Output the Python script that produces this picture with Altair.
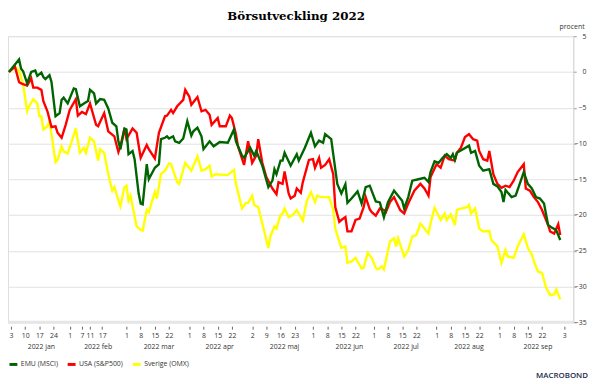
import altair as alt
import pandas as pd
import numpy as np

SERIES = ["EMU (MSCI)", "USA (S&P500)", "Sverige (OMX)"]
COLORS = ["#006400", "#ff0000", "#ffff00"]

# day of year 2022 (1 = 1 jan) and % change
emu_day = [
    2, 7, 8, 9, 11, 13, 15, 16, 18, 19,
    20, 22, 23, 25, 27, 28, 29, 31, 32, 34,
    35, 37, 39, 41, 42, 44, 45, 47, 49, 51,
    53, 55, 56, 57, 59, 60, 61, 63, 64, 66,
    67, 68, 70, 71, 74, 76, 77, 79, 80, 81,
    83, 84, 86, 88, 90, 92, 93, 95, 97, 98,
    101, 103, 106, 110, 113, 114, 117, 118, 121, 123,
    124, 127, 130, 132, 133, 134, 136, 137, 138, 141,
    144, 145, 148, 151, 153, 155, 157, 158, 161, 162,
    164, 166, 168, 169, 171, 174, 176, 178, 180, 183,
    185, 187, 189, 192, 194, 196, 197, 199, 201, 204,
    207, 209, 210, 212, 214, 216, 218, 220, 221, 222,
    223, 226, 229, 230, 232, 234, 236, 239, 241, 243,
    245, 246, 247, 250, 252, 254, 256, 258, 260, 262,
    264, 266, 268, 270, 272, 274,
]
emu_val = [
    0, 1.75, 0.46, 0.1, -1.6, 0, 0.2, -0.55, -0.1, -0.7,
    -1.0, -0.46, -1.4, -6.2, -5.75, -3.9, -3.6, -4.4, -3.7, -2.3,
    -2.4, -4.8, -4.4, -4.05, -2.5, -3.0, -4.4, -3.8, -3.9, -5.1,
    -7.1, -7.6, -9.7, -10.8, -7.9, -8.05, -11.5, -11.05, -12.2, -17.0,
    -18.4, -18.5, -12.9, -15.0, -13.4, -12.9, -9.4, -9.2, -9.0, -9.3,
    -9.0, -9.7, -9.9, -9.3, -6.9, -8.9, -8.3, -7.8, -9.0, -10.8,
    -9.7, -10.4, -9.8, -9.9, -8.05, -9.7, -11.7, -12.0, -10.6, -11.7,
    -11.05, -13.1, -16.1, -15.2, -13.6, -14.3, -12.4, -12.4, -11.3, -13.1,
    -11.5, -12.4, -10.6, -8.5, -10.4, -9.6, -9.9, -8.7, -9.4, -11.5,
    -15.65, -17.0, -15.7, -18.3, -17.7, -16.7, -18.4, -16.1, -15.9, -18.1,
    -18.25, -20.3, -18.2, -16.6, -17.3, -18.0, -19.1, -17.5, -15.2, -15.0,
    -14.8, -15.4, -14.0, -12.5, -12.7, -12.0, -11.5, -12.0, -11.5, -12.3,
    -11.3, -10.8, -10.3, -11.3, -11.05, -13.1, -13.8, -13.6, -15.65, -16.0,
    -16.8, -18.2, -16.5, -17.5, -17.3, -15.65, -14.0, -15.65, -16.3, -17.5,
    -17.7, -18.4, -21.4, -21.8, -22.1, -23.5,
]

usa_day = [
    2, 5, 7, 8, 11, 13, 14, 16, 18, 19,
    21, 23, 25, 26, 28, 30, 32, 35, 36, 38,
    40, 42, 45, 46, 49, 51, 54, 56, 57, 59,
    60, 63, 65, 67, 70, 71, 74, 76, 79, 80,
    82, 83, 85, 88, 89, 91, 92, 95, 97, 99,
    101, 102, 105, 106, 109, 111, 112, 114, 115, 118,
    120, 122, 124, 125, 127, 129, 132, 134, 135, 137,
    138, 140, 141, 143, 144, 146, 147, 150, 152, 153,
    155, 156, 158, 160, 162, 163, 165, 166, 168, 169,
    171, 173, 175, 177, 178, 180, 181, 183, 185, 187,
    188, 190, 192, 195, 197, 199, 202, 205, 207, 209,
    210, 213, 215, 217, 219, 222, 223, 225, 227, 229,
    231, 233, 234, 236, 238, 239, 241, 243, 245, 247,
    249, 251, 253, 256, 257, 259, 261, 263, 265, 268,
    269, 271, 273, 274,
]
usa_val = [
    0, 0.7, -1.4, -1.6, -1.9, -0.9, -2.2, -2.2, -2.5, -4.1,
    -5.5, -7.7, -7.6, -8.5, -9.2, -7.4, -5.3, -3.8, -6.1, -5.6,
    -5.9, -4.4, -7.4, -7.6, -5.75, -8.3, -9.0, -11.2, -10.4, -7.9,
    -9.4, -7.9, -8.5, -12.0, -10.2, -10.8, -12.1, -8.5, -6.2, -6.1,
    -5.3, -5.75, -4.8, -3.9, -2.5, -3.45, -4.6, -3.5, -5.5, -5.3,
    -6.0, -7.4, -6.45, -7.6, -7.6, -6.1, -6.45, -8.7, -10.4, -13.0,
    -9.7, -12.7, -11.7, -9.4, -12.7, -14.7, -16.3, -17.1, -15.4, -15.65,
    -13.9, -17.0, -17.7, -17.3, -16.3, -16.9, -15.4, -12.3, -12.2, -13.4,
    -12.0, -13.4, -13.0, -12.2, -14.3, -18.9, -20.95, -20.7, -20.3, -22.3,
    -22.3, -20.7, -20.5, -18.9, -17.5, -19.2, -19.6, -20.1, -19.1, -19.3,
    -19.6, -18.2, -17.5, -19.3, -19.8, -18.4, -16.6, -15.65, -16.3, -17.3,
    -14.7, -12.9, -13.4, -11.7, -12.2, -12.4, -11.3, -10.6, -9.1, -8.7,
    -9.4, -9.6, -11.05, -12.2, -12.4, -11.05, -14.3, -15.65, -16.2, -15.9,
    -16.1, -15.2, -14.0, -12.9, -16.3, -16.6, -17.5, -18.2, -19.3, -21.4,
    -22.3, -22.6, -21.3, -22.8,
]

swe_day = [
    2, 5, 7, 9, 11, 12, 14, 16, 17, 18,
    19, 21, 22, 23, 25, 26, 28, 29, 31, 33,
    35, 37, 39, 40, 42, 44, 46, 47, 49, 51,
    53, 54, 57, 59, 60, 61, 62, 65, 67, 68,
    70, 71, 74, 75, 77, 79, 81, 82, 85, 86,
    89, 92, 95, 97, 99, 101, 102, 104, 108, 110,
    113, 114, 117, 119, 120, 122, 123, 125, 127, 130,
    131, 133, 134, 136, 137, 138, 140, 142, 144, 146,
    147, 149, 151, 153, 154, 156, 157, 160, 162, 163,
    166, 168, 169, 171, 173, 174, 176, 177, 179, 181,
    183, 184, 186, 187, 190, 192, 193, 194, 197, 199,
    201, 203, 205, 207, 209, 210, 212, 215, 217, 218,
    220, 222, 223, 225, 228, 229, 230, 232, 234, 236,
    239, 240, 243, 245, 247, 248, 251, 253, 256, 258,
    260, 261, 263, 265, 267, 269, 271, 272, 274,
]
swe_val = [
    0, 0.7, 0.2, -1.8, -5.5, -4.8, -3.8, -4.4, -6.2, -6.2,
    -8.05, -7.6, -6.9, -8.7, -12.6, -12.3, -10.4, -11.1, -11.4, -9.7,
    -7.9, -11.3, -10.6, -11.3, -9.2, -9.7, -12.4, -10.8, -11.3, -14.3,
    -16.6, -16.1, -18.8, -16.1, -15.9, -18.0, -17.3, -21.6, -22.1, -22.2,
    -19.3, -19.6, -16.8, -17.7, -14.3, -13.8, -12.8, -12.9, -15.4, -15.65,
    -12.7, -13.8, -11.8, -13.8, -13.6, -13.1, -14.6, -14.3, -14.4, -14.4,
    -13.7, -15.65, -19.1, -18.3, -18.3, -17.3, -18.6, -18.9, -21.2, -24.6,
    -23.0, -21.6, -21.9, -20.0, -19.8, -19.1, -20.3, -20.0, -19.3, -20.3,
    -20.8, -18.0, -16.8, -18.2, -17.3, -17.5, -17.5, -17.5, -19.3, -21.9,
    -24.6, -24.4, -26.7, -26.5, -26.0, -26.5, -27.5, -27.4, -25.3, -26.0,
    -27.4, -27.6, -27.2, -27.6, -23.7, -23.25, -24.4, -23.25, -25.8, -24.9,
    -23.0, -22.8, -21.2, -21.9, -22.6, -21.2, -19.0, -20.7, -19.8, -20.7,
    -19.9, -21.4, -19.3, -19.1, -18.9, -18.6, -19.8, -19.1, -21.9, -22.3,
    -22.2, -23.5, -24.4, -26.7, -24.9, -25.8, -26.0, -24.4, -22.7, -24.6,
    -25.55, -26.5, -27.9, -28.1, -30.15, -31.2, -31.1, -30.4, -31.8,
]

# x-axis tick dates (month, day) and month captions
tick_dates = [
    (1, 3), (1, 10), (1, 17), (1, 24),
    (2, 1), (2, 7), (2, 11), (2, 17),
    (3, 1), (3, 8), (3, 15), (3, 22),
    (4, 1), (4, 8), (4, 15), (4, 22),
    (5, 2), (5, 9), (5, 16), (5, 23),
    (6, 1), (6, 8), (6, 15), (6, 22),
    (7, 1), (7, 8), (7, 15), (7, 22),
    (8, 1), (8, 8), (8, 15), (8, 22),
    (9, 1), (9, 8), (9, 15), (9, 22),
    (10, 3),
]
month_labels = ["2022 jan", "2022 feb", "2022 mar", "2022 apr", "2022 maj",
                "2022 jun", "2022 jul", "2022 aug", "2022 sep"]
month_label_dates = ["2022-01-18", "2022-02-15", "2022-03-17", "2022-04-16", "2022-05-18",
                     "2022-06-19", "2022-07-17", "2022-08-17", "2022-09-20"]
y_ticks = [-35, -30, -25, -20, -15, -10, -5, 0, 5]


def to_dates(days):
    return pd.Timestamp("2022-01-01") + pd.to_timedelta(np.array(days) - 1, unit="D")


def frame(name, days, vals):
    return pd.DataFrame({"series": name, "date": to_dates(days), "value": vals})


FONT = "Open Sans"
W, H = 573, 290

x_scale = alt.Scale(domain=[alt.DateTime(year=2022, month=1, date=1, hours=13),
                            alt.DateTime(year=2022, month=10, date=7, hours=10)])
y_scale = alt.Scale(domain=[-35, 5], nice=False, zero=False)

x_axis = alt.Axis(
    values=[alt.DateTime(year=2022, month=m, date=d) for m, d in tick_dates],
    format="%-d", labelAngle=0, grid=False, domain=False, ticks=True,
    tickSize=3, tickColor="#666666", offset=4, labelPadding=2,
    labelFont=FONT, labelFontSize=7, labelColor="#333333", title=None,
    labelOverlap=False, labelFlush=False,
)
y_axis = alt.Axis(
    orient="right", values=y_ticks, grid=True, gridColor="#e2e2e2", gridWidth=1,
    domainColor="#d6d6d6", tickColor="#999999", tickSize=3,
    labelAlign="right", labelPadding=10, labelFont=FONT, labelFontSize=7,
    labelColor="#333333", title="procent", titleAngle=0, titleAlign="right",
    titleBaseline="middle", titleX=11, titleY=-10, titleFont=FONT, titleFontSize=7,
    titleFontWeight="normal", titleColor="#333333",
)

color = alt.Color(
    "series:N",
    scale=alt.Scale(domain=SERIES, range=COLORS),
    legend=alt.Legend(
        orient="none", legendX=0, legendY=327, direction="horizontal", title=None,
        labelFont=FONT, labelFontSize=7, labelColor="#333333",
        symbolType="stroke", symbolStrokeWidth=3, symbolSize=64,
        columnPadding=3, labelOffset=2, padding=0,
    ),
)

band = alt.Chart(pd.DataFrame({"value": [-35]})).mark_rule(
    color="#e6e6e6", strokeWidth=3
).encode(y=alt.Y("value:Q", scale=y_scale, axis=y_axis))


def line(df):
    return alt.Chart(df).mark_line(strokeWidth=2.4).encode(
        x=alt.X("date:T", scale=x_scale, axis=x_axis),
        y=alt.Y("value:Q", scale=y_scale, axis=y_axis),
        color=color,
    )


lines = [
    line(frame(SERIES[2], swe_day, swe_val)),
    line(frame(SERIES[1], usa_day, usa_val)),
    line(frame(SERIES[0], emu_day, emu_val)),
]

months = alt.Chart(pd.DataFrame({"date": pd.to_datetime(month_label_dates),
                                 "label": month_labels})).mark_text(
    font=FONT, fontSize=7, color="#333333", baseline="middle", align="center"
).encode(x=alt.X("date:T", scale=x_scale, axis=x_axis), y=alt.value(H + 25), text="label:N")

logo = alt.Chart(pd.DataFrame({"label": ["MACROBOND"]})).mark_text(
    font=FONT, fontSize=8, fontWeight=600, color="#1c2b4d", align="right", baseline="middle"
).encode(x=alt.value(588), y=alt.value(H + 54), text="label:N")

chart = alt.layer(band, *lines, months, logo).properties(
    width=W, height=H,
    title=alt.TitleParams(
        "Börsutveckling 2022", font="DejaVu Serif", fontSize=12, fontWeight="bold",
        color="#000000", anchor="middle", frame="bounds", offset=-1,
    ),
    autosize=alt.AutoSizeParams(type="none"),
    padding={"left": 0, "top": 26, "right": 19, "bottom": 60},
).configure_view(stroke=None).configure(background="white")

chart.save("out.html", embed_options={"renderer": "svg", "actions": False})
